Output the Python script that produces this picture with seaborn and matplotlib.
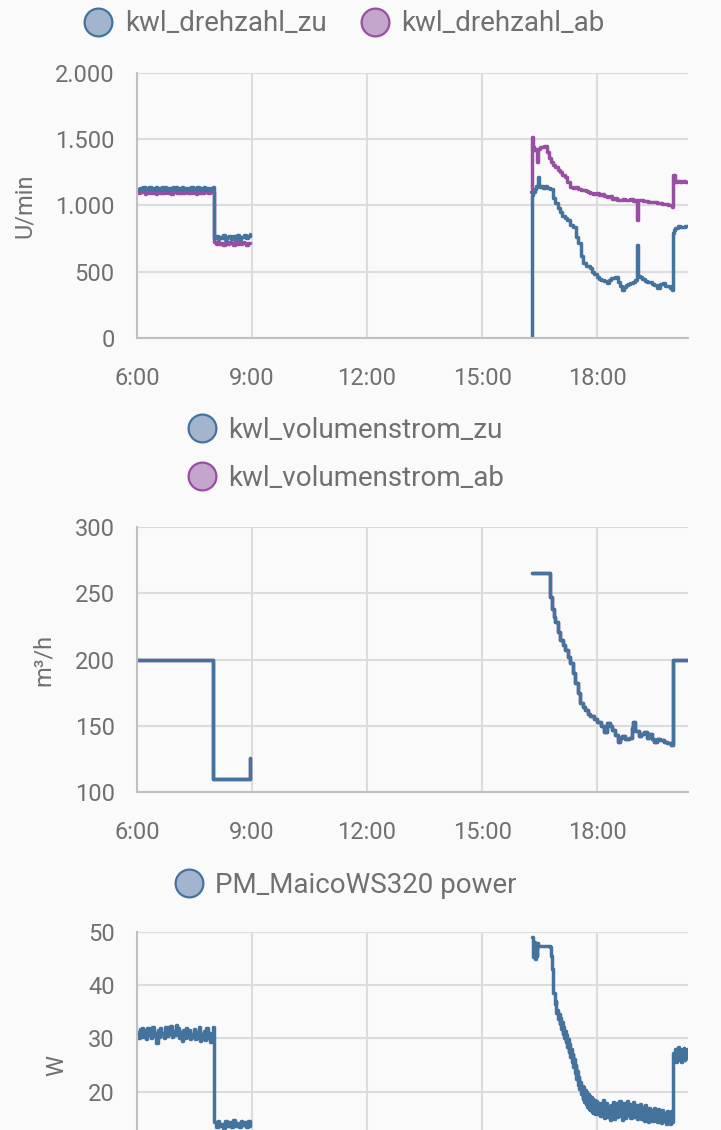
import numpy as np
import seaborn as sns
import matplotlib.pyplot as plt
from matplotlib.lines import Line2D
from matplotlib.ticker import FuncFormatter

# colours used by the dashboard
BLUE = "#44739e"
PURPLE = "#984ea3"
BLUE_FILL = "#a2b5cc"
PURPLE_FILL = "#c6a5cd"
TEXT = "#707070"
GRID = "#dcdcdc"
AXIS = "#c0c0c0"

# x axis: hours of the day
x_ticks = [6, 9, 12, 15, 18]
x_labels = ["6:00", "9:00", "12:00", "15:00", "18:00"]

# ---------------- kwl_drehzahl (U/min) ----------------
zu_morning = [1128, 1119, 1135, 1122, 1140, 1118, 1131, 1125, 1138, 1115, 1133, 1121, 1142, 1124,
              1130, 1117, 1136, 1126, 1139, 1120, 1134, 1116, 1129, 1137, 1123, 1141, 1119, 1132,
              1127, 1138, 1121, 1135, 1118, 1130, 1124, 1140, 1120, 1133, 1126, 1137, 1115, 1131,
              1122, 1139, 1119, 1134, 1125, 1130, 1118, 1136]
zu_low = [752, 770, 745, 765, 758, 776, 748, 762, 771, 750, 768, 757, 779, 747, 764, 760, 774, 752, 769, 782]
ab_morning = [1105, 1096, 1112, 1099, 1108, 1090, 1115, 1101, 1094, 1110, 1098, 1106, 1088, 1113,
              1100, 1097, 1109, 1092, 1111, 1103, 1095, 1107, 1089, 1114, 1099, 1104, 1093, 1110,
              1097, 1108, 1091, 1112, 1100, 1096, 1109, 1094, 1106, 1102, 1090, 1113, 1098, 1105,
              1092, 1111, 1099, 1107, 1095, 1110, 1101, 1104]
ab_low = [722, 708, 728, 713, 719, 705, 726, 711, 724, 716, 703, 729, 712, 721, 707, 725, 714, 700, 720, 717]

zu_evening_t = [16.28, 16.29, 16.33, 16.37, 16.41, 16.46, 16.49, 16.54, 16.59, 16.64, 16.70, 16.77,
                16.84, 16.91, 16.98, 17.04, 17.09, 17.15, 17.22, 17.30, 17.37, 17.45, 17.51, 17.58,
                17.64, 17.71, 17.76, 17.82, 17.87, 17.92, 18.00, 18.06, 18.11, 18.18, 18.26, 18.32,
                18.37, 18.42, 18.47, 18.55, 18.60, 18.65, 18.70, 18.76, 18.81, 18.86, 18.93, 18.99,
                19.04, 19.07, 19.12, 19.18, 19.25, 19.31, 19.38, 19.44, 19.49, 19.57, 19.64, 19.72,
                19.78, 19.83, 19.90, 19.96, 19.98, 20.01, 20.04, 20.11, 20.16, 20.22, 20.30, 20.37]
zu_evening_v = [0, 1079, 1100, 1125, 1150, 1215, 1140, 1150, 1135, 1145, 1130, 1125,
                1060, 1020, 980, 950, 920, 905, 890, 850, 838, 760, 717, 620,
                566, 545, 540, 528, 500, 480, 460, 448, 440, 430, 415, 440,
                450, 455, 460, 420, 395, 362, 385, 400, 410, 415, 425, 438,
                702, 470, 460, 445, 430, 420, 423, 410, 400, 377, 410, 415,
                395, 390, 375, 362, 792, 815, 830, 845, 835, 840, 848, 845]
ab_evening_t = [16.28, 16.29, 16.32, 16.36, 16.40, 16.43, 16.46, 16.50, 16.55, 16.62, 16.70, 16.75,
                16.80, 16.86, 16.91, 16.97, 17.02, 17.08, 17.15, 17.22, 17.30, 17.37, 17.43, 17.50,
                17.57, 17.64, 17.70, 17.75, 17.82, 17.90, 17.97, 18.05, 18.12, 18.19, 18.26, 18.33,
                18.40, 18.47, 18.53, 18.60, 18.67, 18.73, 18.80, 18.87, 18.93, 18.99, 19.04, 19.07,
                19.13, 19.19, 19.25, 19.32, 19.40, 19.47, 19.55, 19.62, 19.70, 19.77, 19.85, 19.91,
                19.96, 19.98, 20.02, 20.08, 20.15, 20.22, 20.30, 20.37]
ab_evening_v = [1100, 1517, 1440, 1419, 1425, 1330, 1430, 1438, 1441, 1450, 1400, 1360,
                1330, 1305, 1291, 1270, 1250, 1232, 1215, 1175, 1140, 1132, 1140, 1125,
                1118, 1120, 1110, 1102, 1095, 1090, 1098, 1080, 1085, 1070, 1064, 1072,
                1050, 1056, 1045, 1041, 1048, 1038, 1040, 1046, 1035, 1041, 890, 1040,
                1045, 1032, 1035, 1028, 1030, 1024, 1019, 1022, 1010, 1015, 1000, 1005,
                989, 1230, 1177, 1185, 1175, 1182, 1178, 1177]

# ---------------- kwl_volumenstrom (m³/h) ----------------
vol_morning_t = [6.00, 7.98, 8.95]
vol_morning_v = [200, 110, 126]
vol_evening_t = [16.29, 16.77, 16.82, 16.87, 16.91, 16.97, 17.04, 17.10, 17.17, 17.24, 17.30, 17.37,
                 17.43, 17.50, 17.56, 17.62, 17.69, 17.76, 17.82, 17.91, 18.00, 18.09, 18.18, 18.26,
                 18.33, 18.39, 18.47, 18.55, 18.60, 18.65, 18.74, 18.83, 18.90, 18.94, 19.00, 19.09,
                 19.15, 19.22, 19.29, 19.35, 19.42, 19.48, 19.56, 19.64, 19.74, 19.83, 19.93, 19.98, 20.37]
vol_evening_v = [265, 247, 238, 232, 228, 221, 215, 211, 207, 202, 197, 190,
                 182, 175, 167, 164, 162, 159, 157, 155, 153, 150, 145, 152,
                 150, 147, 143, 138, 141, 142, 140, 141, 148, 153, 146, 142,
                 144, 145, 141, 144, 140, 138, 140, 139, 138, 137, 135.5, 200, 200]

# ---------------- PM_MaicoWS320 power (W) ----------------
pw_morning = [31.2, 30.1, 31.8, 30.4, 32.0, 30.2, 31.5, 29.9, 31.9, 30.6, 31.3, 30.0, 32.2, 30.5,
              31.0, 29.2, 31.6, 30.3, 31.9, 30.7, 31.1, 30.0, 32.1, 30.4, 31.7, 30.9, 32.4, 30.2,
              31.4, 30.6, 32.5, 30.8, 31.9, 30.1, 31.2, 29.6, 31.6, 30.0, 32.0, 30.3, 31.5, 29.8,
              30.9, 30.2, 31.8, 29.9, 31.3, 30.1, 32.2, 29.5, 30.8, 29.9, 31.4, 29.7, 31.9, 30.0,
              31.1, 29.4, 30.7, 32.2]
pw_low = [14.2, 13.3, 14.5, 13.5, 14.0, 13.2, 14.4, 13.6, 14.3, 13.4, 14.6, 13.5, 14.1, 13.3,
          14.4, 13.7, 14.2, 13.4, 14.5, 13.6]
pw_start = [49.0, 47.0, 45.3, 48.2, 45.0, 47.6, 45.4, 48.0, 47.4]
pw_decline = [47.2, 45.5, 43.0, 40.8, 38.5, 38.6, 36.4, 37.0, 34.7, 35.4, 33.6, 34.5, 32.7, 33.9,
              31.8, 33.0, 30.9, 32.2, 30.1, 31.4, 29.3, 30.6, 28.4, 29.8, 27.5, 28.9, 26.6, 28.0,
              25.6, 27.1, 24.6, 26.1, 23.5, 25.0, 22.4, 23.9, 21.3, 22.8, 20.4, 21.9, 19.5, 21.1,
              18.7, 20.8, 18.1, 20.3, 17.6, 19.9, 17.2, 19.6, 16.8, 19.2, 16.5, 18.9, 16.2, 18.7,
              16.0, 18.4, 15.8, 18.2]
pw_plateau = [18.3, 15.8, 17.9, 15.4, 17.6, 16.0, 18.4, 15.1, 17.2, 17.9, 15.2, 17.3, 14.6, 17.5,
              15.6, 18.1, 14.9, 17.0, 17.8, 15.3, 16.8, 18.2, 15.5, 14.7, 17.4, 17.9, 15.1, 17.0,
              18.3, 15.7, 17.6, 15.0, 17.2, 18.0, 15.3, 16.8, 17.5, 14.8, 17.3, 15.6, 17.7, 14.9,
              17.1, 14.5, 17.4, 15.2, 16.8, 14.3, 17.0, 15.0, 16.6, 14.4, 16.9, 14.7, 16.4, 14.2,
              16.7, 14.6, 16.2, 14.1, 16.5, 14.5, 16.0, 14.0, 16.4, 14.4, 15.9, 13.9, 16.3, 14.3]
pw_end = [27.3, 25.8, 28.1, 25.5, 27.8, 26.0, 28.3, 26.6, 27.7, 25.6, 28.0, 26.1, 28.2, 25.9,
          27.7, 26.4, 28.1, 26.3]

sns.set_style("white", {"axes.facecolor": "#fafafa", "figure.facecolor": "#fafafa"})
plt.rcParams["font.family"] = ["Roboto", "DejaVu Sans"]


def draw(ax, t, v, color):
    sns.lineplot(x=t, y=v, ax=ax, color=color, linewidth=2.5, drawstyle="steps-post",
                 estimator=None, sort=False, legend=False)


def morning_times(first, second):
    # first block 6:00-7:59, second block 8:00-8:57
    return np.concatenate([np.linspace(6.0, 7.98, len(first)),
                           np.linspace(8.0, 8.95, len(second))])


def style_axis(ax, ymin, ymax, yticks, ylabel, fmt=None):
    ax.set_xlim(6.0, 20.37)
    ax.set_ylim(ymin, ymax)
    ax.set_xticks(x_ticks)
    ax.set_xticklabels(x_labels)
    ax.set_yticks(yticks)
    if fmt:
        ax.yaxis.set_major_formatter(FuncFormatter(fmt))
    ax.grid(True, color=GRID, linewidth=1.5)
    ax.set_axisbelow(True)
    ax.tick_params(axis="both", length=11, width=1.5, color=GRID, labelsize=17,
                   labelcolor=TEXT)
    ax.tick_params(axis="y", pad=5)
    ax.tick_params(axis="x", pad=10)
    for side in ["top", "right"]:
        ax.spines[side].set_visible(False)
    for side in ["left", "bottom"]:
        ax.spines[side].set_color(AXIS)
        ax.spines[side].set_linewidth(1.5)
    ax.set_ylabel(ylabel, fontsize=17, color=TEXT, labelpad=14)
    ax.set_xlabel("")


def legend_handle(edge, fill, label):
    return Line2D([], [], marker="o", linestyle="none", markersize=20, markerfacecolor=fill,
                  markeredgecolor=edge, markeredgewidth=1.6, label=label)


fig = plt.figure(figsize=(7.21, 11.3), dpi=100)

# panel 1
ax1 = fig.add_axes([0.190, 0.7009, 0.7642, 0.2345])
draw(ax1, morning_times(ab_morning, ab_low), ab_morning + ab_low, PURPLE)
draw(ax1, ab_evening_t, ab_evening_v, PURPLE)
draw(ax1, morning_times(zu_morning, zu_low), zu_morning + zu_low, BLUE)
draw(ax1, zu_evening_t, zu_evening_v, BLUE)
style_axis(ax1, 0, 2000, [0, 500, 1000, 1500, 2000], "U/min",
           lambda v, p: f"{int(v):,}".replace(",", "."))
ax1.legend(handles=[legend_handle(BLUE, BLUE_FILL, "kwl_drehzahl_zu"),
                    legend_handle(PURPLE, PURPLE_FILL, "kwl_drehzahl_ab")],
           loc="center", bbox_to_anchor=(0.478, 0.979), bbox_transform=fig.transFigure,
           ncol=2, frameon=False, fontsize=20, labelcolor=TEXT, handlelength=1.0,
           handletextpad=0.45, columnspacing=1.25)

# panel 2
ax2 = fig.add_axes([0.190, 0.2991, 0.7642, 0.2345])
draw(ax2, vol_morning_t, vol_morning_v, PURPLE)
draw(ax2, vol_evening_t, vol_evening_v, PURPLE)
draw(ax2, vol_morning_t, vol_morning_v, BLUE)
draw(ax2, vol_evening_t, vol_evening_v, BLUE)
style_axis(ax2, 100, 300, [100, 150, 200, 250, 300], "m³/h")
ax2.legend(handles=[legend_handle(BLUE, BLUE_FILL, "kwl_volumenstrom_zu"),
                    legend_handle(PURPLE, PURPLE_FILL, "kwl_volumenstrom_ab")],
           loc="center", bbox_to_anchor=(0.48, 0.598), bbox_transform=fig.transFigure,
           ncol=1, frameon=False, fontsize=20, labelcolor=TEXT, handlelength=1.0,
           handletextpad=0.45, labelspacing=0.75)

# panel 3 (cut off at the bottom of the screenshot, only 20-50 visible)
ax3 = fig.add_axes([0.190, -0.0602, 0.7642, 0.2354])
pw_evening_t = np.concatenate([np.linspace(16.30, 16.46, len(pw_start)),
                               np.linspace(16.78, 17.96, len(pw_decline)),
                               np.linspace(17.98, 19.96, len(pw_plateau)),
                               np.linspace(19.98, 20.37, len(pw_end))])
pw_evening_v = pw_start + pw_decline + pw_plateau + pw_end
draw(ax3, morning_times(pw_morning, pw_low), pw_morning + pw_low, BLUE)
draw(ax3, pw_evening_t, pw_evening_v, BLUE)
style_axis(ax3, 0, 50, [20, 30, 40, 50], "W")
ax3.tick_params(axis="x", labelbottom=False)
ax3.legend(handles=[legend_handle(BLUE, BLUE_FILL, "PM_MaicoWS320 power")],
           loc="center", bbox_to_anchor=(0.48, 0.2168), bbox_transform=fig.transFigure,
           frameon=False, fontsize=20, labelcolor=TEXT, handlelength=1.0, handletextpad=0.45)

fig.savefig("out.png", dpi=100, facecolor=fig.get_facecolor())
